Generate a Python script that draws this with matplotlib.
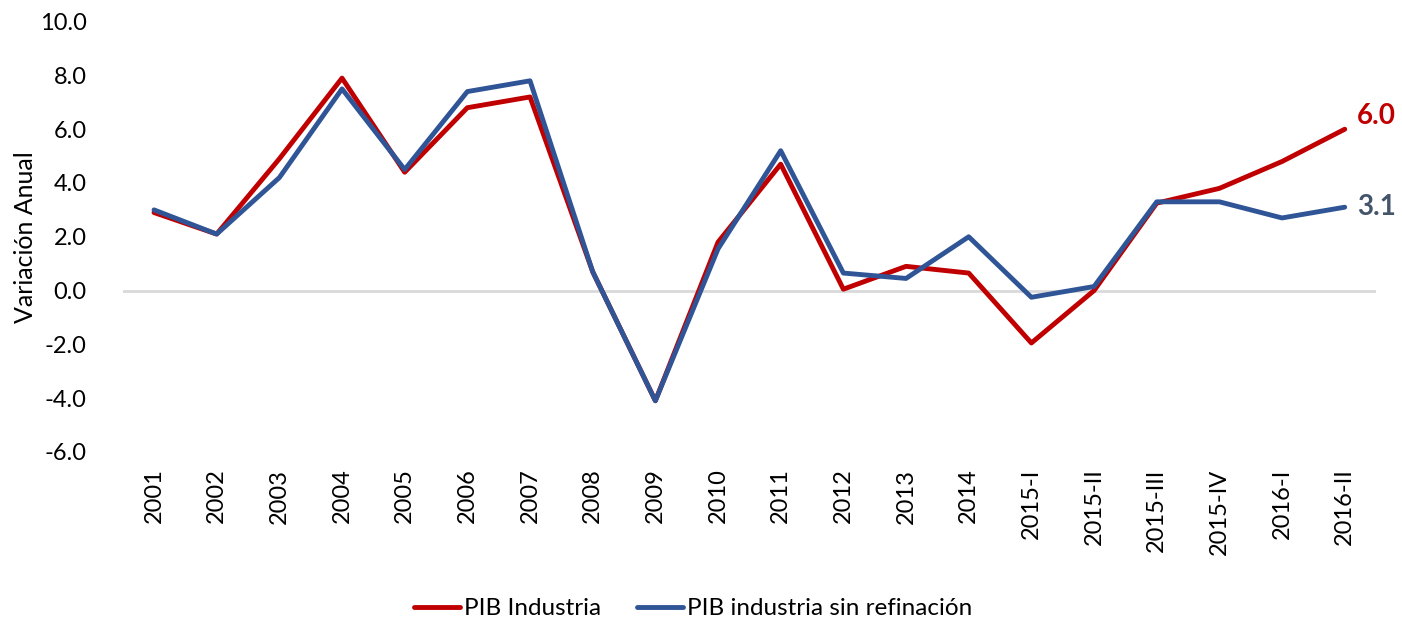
import numpy as np
import matplotlib.pyplot as plt

plt.rcParams['font.family'] = ['Lato', 'DejaVu Sans']

categorias = ['2001', '2002', '2003', '2004', '2005', '2006', '2007', '2008', '2009', '2010',
              '2011', '2012', '2013', '2014', '2015-I', '2015-II', '2015-III', '2015-IV',
              '2016-I', '2016-II']
pib_industria = [2.9, 2.1, 4.9, 7.9, 4.4, 6.8, 7.2, 0.7, -4.1, 1.8,
                 4.7, 0.05, 0.9, 0.65, -1.95, 0.0, 3.25, 3.8, 4.8, 6.0]
pib_sin_refinacion = [3.0, 2.1, 4.2, 7.5, 4.5, 7.4, 7.8, 0.7, -4.1, 1.55,
                      5.2, 0.65, 0.45, 2.0, -0.25, 0.15, 3.3, 3.3, 2.7, 3.1]

rojo = '#C00000'
azul = '#2F5597'

fig = plt.figure(figsize=(14.02, 6.19), dpi=100)
ax = fig.add_axes([0.0875, 0.27, 0.894, 0.695])

x = np.arange(len(categorias))
ax.axhline(0, color='#D9D9D9', lw=2, zorder=1)
ax.plot(x, pib_industria, color=rojo, lw=3.5, label='PIB Industria', zorder=3,
        solid_joinstyle='round', solid_capstyle='round')
ax.plot(x, pib_sin_refinacion, color=azul, lw=3.5, label='PIB industria sin refinación', zorder=4,
        solid_joinstyle='round', solid_capstyle='round')

ax.text(x[-1] + 0.2, pib_industria[-1], '%.1f' % pib_industria[-1], color=rojo,
        fontsize=20, fontweight='bold', va='bottom', ha='left')
ax.text(x[-1] + 0.2, pib_sin_refinacion[-1], '%.1f' % pib_sin_refinacion[-1], color='#44546A',
        fontsize=20, fontweight='bold', va='center', ha='left')

ax.set_xlim(-0.5, len(categorias) - 0.5)
ax.set_ylim(-6, 10)
ax.set_yticks(np.arange(-6, 10.1, 2))
ax.set_yticklabels(['%.1f' % v for v in np.arange(-6, 10.1, 2)])
ax.set_xticks(x)
ax.set_xticklabels(categorias, rotation=90)
ax.tick_params(length=0, labelsize=17)
ax.tick_params(axis='y', pad=26)
ax.tick_params(axis='x', pad=12)
for s in ax.spines.values():
    s.set_visible(False)
ax.set_ylabel('Variación Anual', fontsize=18)
ax.yaxis.set_label_coords(-0.068, 0.5)

ax.legend(loc='lower center', bbox_to_anchor=(0.455, -0.44), ncol=2, frameon=False,
          fontsize=17.5, handlelength=1.9, handletextpad=0.15, columnspacing=1.5)

fig.savefig('out.png', dpi=100)
